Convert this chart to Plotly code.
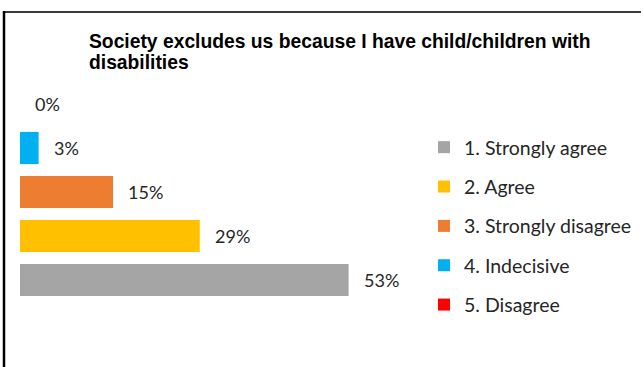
import plotly.graph_objects as go

# Survey responses (share of respondents, %)
categories = ["1. Strongly agree", "2. Agree", "3. Strongly disagree", "4. Indecisive", "5. Disagree"]
values = [53, 29, 15, 3, 0]
colors = ["#A5A5A5", "#FFC000", "#ED7D31", "#00B0F0", "#FF0000"]
title_lines = ["Society excludes us because I have child/children with", "disabilities"]

W, H = 644, 367
ML, MR, MT, MB = 20, 224, 82, 65
plot_w = W - ML - MR
plot_h = H - MT - MB
px_per_pct = 6.2
label_font = "Lato, Open Sans, sans-serif"
text_color = "#262626"

fig = go.Figure()
for i, (cat, val, col) in enumerate(zip(categories, values, colors)):
    fig.add_trace(go.Bar(
        y=[cat], x=[val], orientation="h",
        name=cat, marker=dict(color=col, line=dict(width=0)),
        legendgroup=f"g{i}", showlegend=True,
    ))

# Percentage labels just past the end of each bar
for cat, val in zip(categories, values):
    fig.add_annotation(
        x=val, y=cat, text=f"{val}%", showarrow=False,
        xanchor="left", yanchor="middle", xshift=13,
        font=dict(family=label_font, size=18, color=text_color),
    )

def px_x(p):
    return (p - ML) / plot_w

def px_y(p):
    return (H - MB - p) / plot_h

# Two-line bold heading
for line, cy in zip(title_lines, [42, 63]):
    fig.add_annotation(
        xref="paper", yref="paper", x=px_x(87), y=px_y(cy),
        text=f"<b>{line}</b>", showarrow=False,
        xanchor="left", yanchor="middle",
        font=dict(family="Liberation Sans, Arial, sans-serif", size=19.3, color="#000000"),
    )

# Frame lines along the top and left edges
fig.add_shape(type="line", xref="paper", yref="paper",
              x0=px_x(3), x1=px_x(641), y0=px_y(12), y1=px_y(12),
              line=dict(color="#3a3a3a", width=2))
fig.add_shape(type="line", xref="paper", yref="paper",
              x0=px_x(4), x1=px_x(4), y0=px_y(11), y1=px_y(H + 5),
              line=dict(color="#000000", width=2.5))

fig.update_layout(
    width=W, height=H,
    margin=dict(l=ML, r=MR, t=MT, b=MB, autoexpand=False),
    paper_bgcolor="white", plot_bgcolor="white",
    barmode="overlay", bargap=0.27,
    xaxis=dict(range=[0, plot_w / px_per_pct], visible=False, fixedrange=True),
    yaxis=dict(categoryorder="array", categoryarray=categories,
               visible=False, fixedrange=True),
    legend=dict(
        x=px_x(424), xanchor="left",
        y=px_y(128), yanchor="top",
        traceorder="grouped", tracegroupgap=11,
        font=dict(family=label_font, size=19.5, color=text_color),
        itemwidth=30, bgcolor="rgba(0,0,0,0)",
    ),
    showlegend=True,
)

fig.write_html("out.html")
